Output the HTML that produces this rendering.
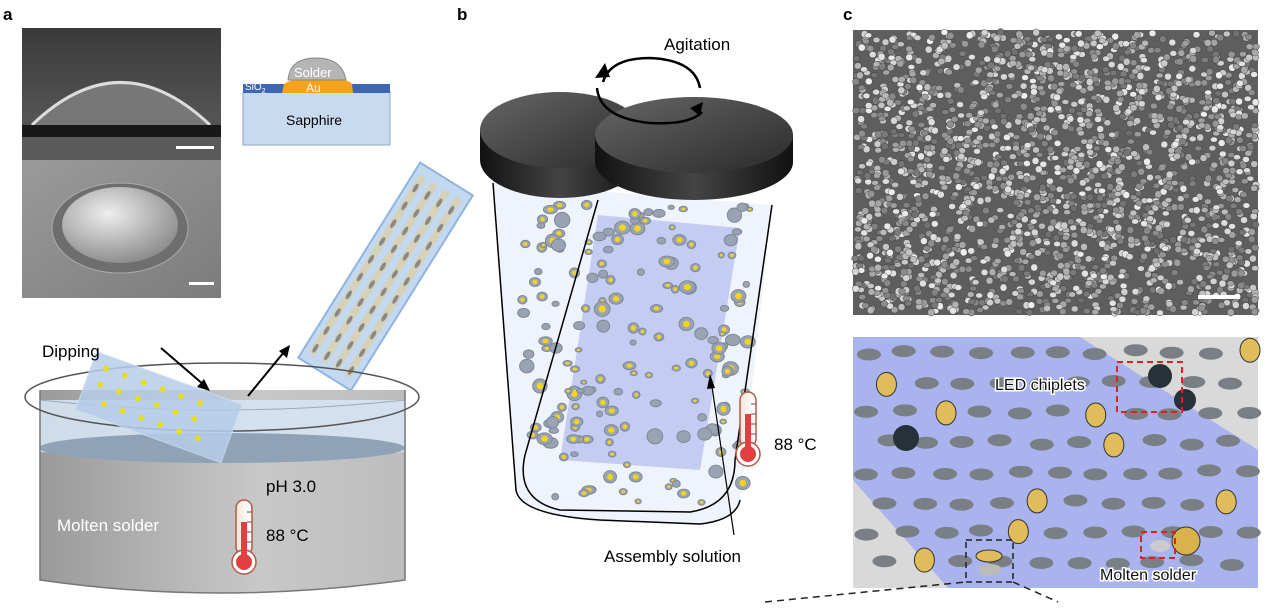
<!DOCTYPE html>
<html><head><meta charset="utf-8"><style>
html,body{margin:0;padding:0;background:#fff}
svg{display:block;font-family:"Liberation Sans",Arial,sans-serif}
</style></head><body>
<svg id="s" width="1280" height="610" viewBox="0 0 1280 610" xmlns="http://www.w3.org/2000/svg">
<defs>
<linearGradient id="semTop" x1="0" y1="0" x2="0" y2="1"><stop offset="0" stop-color="#3a3a3a"/><stop offset="0.7" stop-color="#555"/><stop offset="1" stop-color="#222"/></linearGradient>
<linearGradient id="semBot" x1="0" y1="0" x2="1" y2="1"><stop offset="0" stop-color="#9a9a9a"/><stop offset="1" stop-color="#7c7c7c"/></linearGradient>
<radialGradient id="dome" cx="0.4" cy="0.35" r="0.7"><stop offset="0" stop-color="#eee"/><stop offset="1" stop-color="#888"/></radialGradient>
<linearGradient id="lid" x1="0" y1="0" x2="1" y2="1"><stop offset="0" stop-color="#666"/><stop offset="1" stop-color="#2a2a2a"/></linearGradient>
<linearGradient id="lidside" x1="0" y1="0" x2="1" y2="0"><stop offset="0" stop-color="#111"/><stop offset="0.5" stop-color="#444"/><stop offset="1" stop-color="#111"/></linearGradient>
<linearGradient id="therm" x1="0" y1="0" x2="1" y2="0"><stop offset="0" stop-color="#f5e6dc"/><stop offset="1" stop-color="#fff"/></linearGradient>
<linearGradient id="pot" x1="0" y1="0" x2="1" y2="0"><stop offset="0" stop-color="#9a9a9a"/><stop offset="0.6" stop-color="#c8c8c8"/><stop offset="1" stop-color="#bdbdbd"/></linearGradient>
</defs>

<text x="3" y="20" font-size="17" font-weight="bold">a</text>
<text x="457" y="20" font-size="17" font-weight="bold">b</text>
<text x="843" y="20" font-size="17" font-weight="bold">c</text>

<rect x="22" y="28" width="199" height="132" fill="url(#semTop)"/>
<path d="M32 125 Q120 40 210 125 Z" fill="#777"/>
<path d="M32 125 Q120 40 210 125" fill="none" stroke="#ddd" stroke-width="3"/>
<rect x="22" y="125" width="199" height="12" fill="#181818"/>
<rect x="22" y="137" width="199" height="23" fill="#5a5a5a"/>
<rect x="176" y="146" width="38" height="3" fill="#fff"/>
<rect x="22" y="160" width="199" height="138" fill="url(#semBot)"/>
<ellipse cx="120" cy="228" rx="68" ry="45" fill="#6e6e6e" stroke="#aaa" stroke-width="1"/>
<ellipse cx="120" cy="225" rx="58" ry="38" fill="url(#dome)"/>
<rect x="189" y="282" width="25" height="3" fill="#fff"/>
<rect x="243" y="92" width="147" height="53" fill="#c8daf0" stroke="#8aa4c4"/>
<rect x="243" y="84" width="147" height="9" fill="#3f66b0"/>
<path d="M282 93 L284 84 Q290 80 296 80 L342 80 Q348 80 352 84 L353 93 Z" fill="#f6a21c"/>
<path d="M288 80 Q290 58 316 58 Q342 58 346 80 Z" fill="#b5b5b5" stroke="#888"/>
<text x="294" y="77" font-size="13" fill="#fff">Solder</text>
<text x="306" y="92" font-size="12" fill="#fff">Au</text>
<text x="245" y="90" font-size="10" fill="#fff">SiO<tspan font-size="7" dy="3">2</tspan></text>
<text x="286" y="125" font-size="14">Sapphire</text>

<g transform="translate(383,275) rotate(-58)">
<rect x="-115" y="-28" width="230" height="62" fill="#c3d8f1" stroke="#8fb4e0" stroke-width="2"/>
<g id="stripes"></g>
</g>

<path d="M40 390 L40 580 Q220 606 405 580 L405 390 Z" fill="url(#pot)"/>
<path d="M40 400 L40 452 Q220 466 405 452 L405 400 Z" fill="#d5e3f2" opacity="0.9"/>
<ellipse cx="222" cy="448" rx="183" ry="15" fill="#8fa2b6"/>
<path d="M40 400 Q220 420 405 400" fill="none" stroke="#9ab" stroke-width="1"/>
<path d="M40 390 L40 580 Q220 606 405 580 L405 390" fill="none" stroke="#777" stroke-width="1.5"/>
<ellipse cx="222" cy="397" rx="197" ry="34" fill="none" stroke="#555" stroke-width="1.5"/>
<g transform="translate(155,410) rotate(20)">
<rect x="-75" y="-35" width="155" height="62" fill="#b6cde9" opacity="0.85" stroke="#cde" />
<g fill="#e6dc2a">
<circle cx="-60" cy="-22" r="3"/><circle cx="-40" cy="-22" r="3"/><circle cx="-20" cy="-22" r="3"/><circle cx="0" cy="-22" r="3"/><circle cx="20" cy="-22" r="3"/><circle cx="40" cy="-22" r="3"/>
<circle cx="-60" cy="-5" r="3"/><circle cx="-40" cy="-5" r="3"/><circle cx="-20" cy="-5" r="3"/><circle cx="0" cy="-5" r="3"/><circle cx="20" cy="-5" r="3"/><circle cx="40" cy="-5" r="3"/>
<circle cx="-50" cy="12" r="3"/><circle cx="-30" cy="12" r="3"/><circle cx="-10" cy="12" r="3"/><circle cx="10" cy="12" r="3"/><circle cx="30" cy="12" r="3"/><circle cx="50" cy="12" r="3"/>
</g></g>
<line x1="161" y1="348" x2="204" y2="385" stroke="#000" stroke-width="2"/>
<polygon points="210,391 197,387 204,379" fill="#000"/>
<line x1="248" y1="396" x2="284" y2="352" stroke="#000" stroke-width="2"/>
<polygon points="290,345 287,358 279,351" fill="#000"/>
<text x="42" y="357" font-size="17">Dipping</text>
<text x="266" y="492" font-size="17">pH 3.0</text>
<text x="57" y="531" font-size="17" fill="#fff">Molten solder</text>
<text x="266" y="541" font-size="17">88 °C</text>
<g id="th1" transform="translate(236,500)">
<rect x="0" y="0" width="16" height="55" rx="8" fill="url(#therm)" stroke="#b25a48" stroke-width="1.5"/>
<circle cx="8" cy="62" r="12" fill="#fff" stroke="#b25a48" stroke-width="1.5"/>
<rect x="5" y="22" width="6" height="40" fill="#e04040"/><circle cx="8" cy="62" r="8" fill="#e04040"/>
<line x1="11" y1="12" x2="16" y2="12" stroke="#555"/><line x1="11" y1="22" x2="16" y2="22" stroke="#555"/><line x1="11" y1="32" x2="16" y2="32" stroke="#555"/><line x1="11" y1="42" x2="16" y2="42" stroke="#555"/>
</g>

<path d="M493 183 L517 488 Q520 515 600 522 L700 525 Q735 522 740 498 L772 205 Z" fill="#edf2fb" opacity="0.9"/>
<polygon points="598,215 740,228 700,470 560,460" fill="#b9c3ef" opacity="0.8"/>
<g id="parts"></g>
<path d="M493 183 L516 490 Q520 515 600 520 L700 524 Q736 520 740 500" fill="none" stroke="#000" stroke-width="1.5"/>
<path d="M598 200 L525 455 Q515 500 560 510 L690 512 Q735 505 735 460 L772 205" fill="none" stroke="#000" stroke-width="1.5"/>
<path d="M480 130 L480 160 A80 38 0 0 0 640 160 L640 130 Z" fill="url(#lidside)"/>
<ellipse cx="560" cy="130" rx="80" ry="38" fill="url(#lid)"/>
<path d="M595 135 L595 162 A99 38 0 0 0 793 162 L793 135 Z" fill="url(#lidside)"/>
<ellipse cx="694" cy="135" rx="99" ry="38" fill="url(#lid)"/>
<path d="M603 82 Q610 58 650 58 Q695 60 700 88 M702 112 Q690 125 650 123 Q600 118 597 88" fill="none" stroke="#000" stroke-width="2.5"/>
<polygon points="595,78 605,63 610,77" fill="#000"/>
<polygon points="700,116 690,108 703,102" fill="#000"/>
<text x="664" y="50" font-size="17">Agitation</text>
<line x1="734" y1="535" x2="711" y2="380" stroke="#000" stroke-width="1.2"/>
<polygon points="710,374 715,388 707,389" fill="#000"/>
<text x="604" y="562" font-size="17">Assembly solution</text>
<use href="#th1" transform="translate(504,-108)"/>
<text x="774" y="450" font-size="17">88 °C</text>

<rect x="853" y="30" width="405" height="285" fill="#5e5e5e"/>
<g id="sem"></g>
<rect x="1198" y="295" width="42" height="4" fill="#fff"/>

<rect x="853" y="337" width="405" height="251" fill="#d9d9d9"/>
<polygon points="853,337 1080,337 1258,450 1258,588 948,588 853,480" fill="#a9b4ee"/>
<g id="rend"></g>
<rect x="1117" y="362" width="65" height="50" fill="none" stroke="#e02020" stroke-width="2" stroke-dasharray="6,4"/>
<rect x="1141" y="532" width="34" height="26" fill="none" stroke="#e02020" stroke-width="2" stroke-dasharray="6,4"/>
<rect x="966" y="540" width="47" height="42" fill="none" stroke="#222" stroke-width="1.5" stroke-dasharray="6,4"/>
<text x="995" y="390" font-size="16" fill="#111" stroke="#fff" stroke-width="3" paint-order="stroke">LED chiplets</text>
<text x="1100" y="580" font-size="16" fill="#111" stroke="#fff" stroke-width="3" paint-order="stroke">Molten solder</text>
<path d="M765 602 L966 582 M1013 582 L1058 602" stroke="#222" stroke-width="1.5" stroke-dasharray="7,5" fill="none"/>
</svg>
<script>
var NS="http://www.w3.org/2000/svg";
function rnd(seed){var s=seed;return function(){s=(s*9301+49297)%233280;return s/233280;}}
function el(p,t,a){var e=document.createElementNS(NS,t);for(var k in a)e.setAttribute(k,a[k]);p.appendChild(e);return e;}
var st=document.getElementById("stripes");
for(var c=0;c<4;c++){el(st,"rect",{x:-105,y:-22+c*14,width:210,height:7,fill:"#dccfa6",opacity:.8});
for(var i=0;i<10;i++)el(st,"ellipse",{cx:-98+i*21,cy:-18.5+c*14,rx:5,ry:2,fill:"#888"});}
var r=rnd(7),g=document.getElementById("parts");
for(var i=0;i<170;i++){var x=522+r()*228,y=205+r()*300;var rx=3+r()*5;var ry=rx*(0.6+r()*0.4);
el(g,"ellipse",{cx:x,cy:y,rx:rx,ry:ry,fill:"#9aa3b3",stroke:"#7f8797"});
if(r()>0.3)el(g,"ellipse",{cx:x,cy:y,rx:rx*0.45,ry:ry*0.5,fill:"#f2d51a"});}
r=rnd(3);var sg=document.getElementById("sem");
for(var i=0;i<2200;i++){var x=855+r()*401,y=32+r()*281;var v=110+Math.floor(r()*130);
el(sg,"ellipse",{cx:x.toFixed(1),cy:y.toFixed(1),rx:3.5,ry:2.5+r()*1.2,fill:"rgb("+v+","+v+","+v+")",stroke:"#333","stroke-width":.4});}
r=rnd(11);var rg=document.getElementById("rend");
for(var row=0;row<8;row++)for(var col=0;col<11;col++){var x=865+col*38+(row%2)*19+r()*6,y=350+row*30+r()*5;if(x>1252)continue;
var gold=r()<0.1;el(rg,"ellipse",{cx:x,cy:y,rx:gold?10:12,ry:gold?12:6,fill:gold?"#e0bc5a":"#7a7f85",stroke:gold?"#333":"none"});}
el(rg,"circle",{cx:906,cy:438,r:13,fill:"#263238"});el(rg,"circle",{cx:1160,cy:376,r:12,fill:"#263238"});el(rg,"circle",{cx:1185,cy:400,r:11,fill:"#263238"});
el(rg,"ellipse",{cx:1186,cy:541,rx:14,ry:14,fill:"#d9b24c",stroke:"#333"});el(rg,"ellipse",{cx:989,cy:556,rx:13,ry:6,fill:"#e0bc5a",stroke:"#333"});
el(rg,"ellipse",{cx:990,cy:570,rx:12,ry:6,fill:"#bbb"});el(rg,"ellipse",{cx:1160,cy:546,rx:10,ry:6,fill:"#ccc"});
</script>
</body></html>
